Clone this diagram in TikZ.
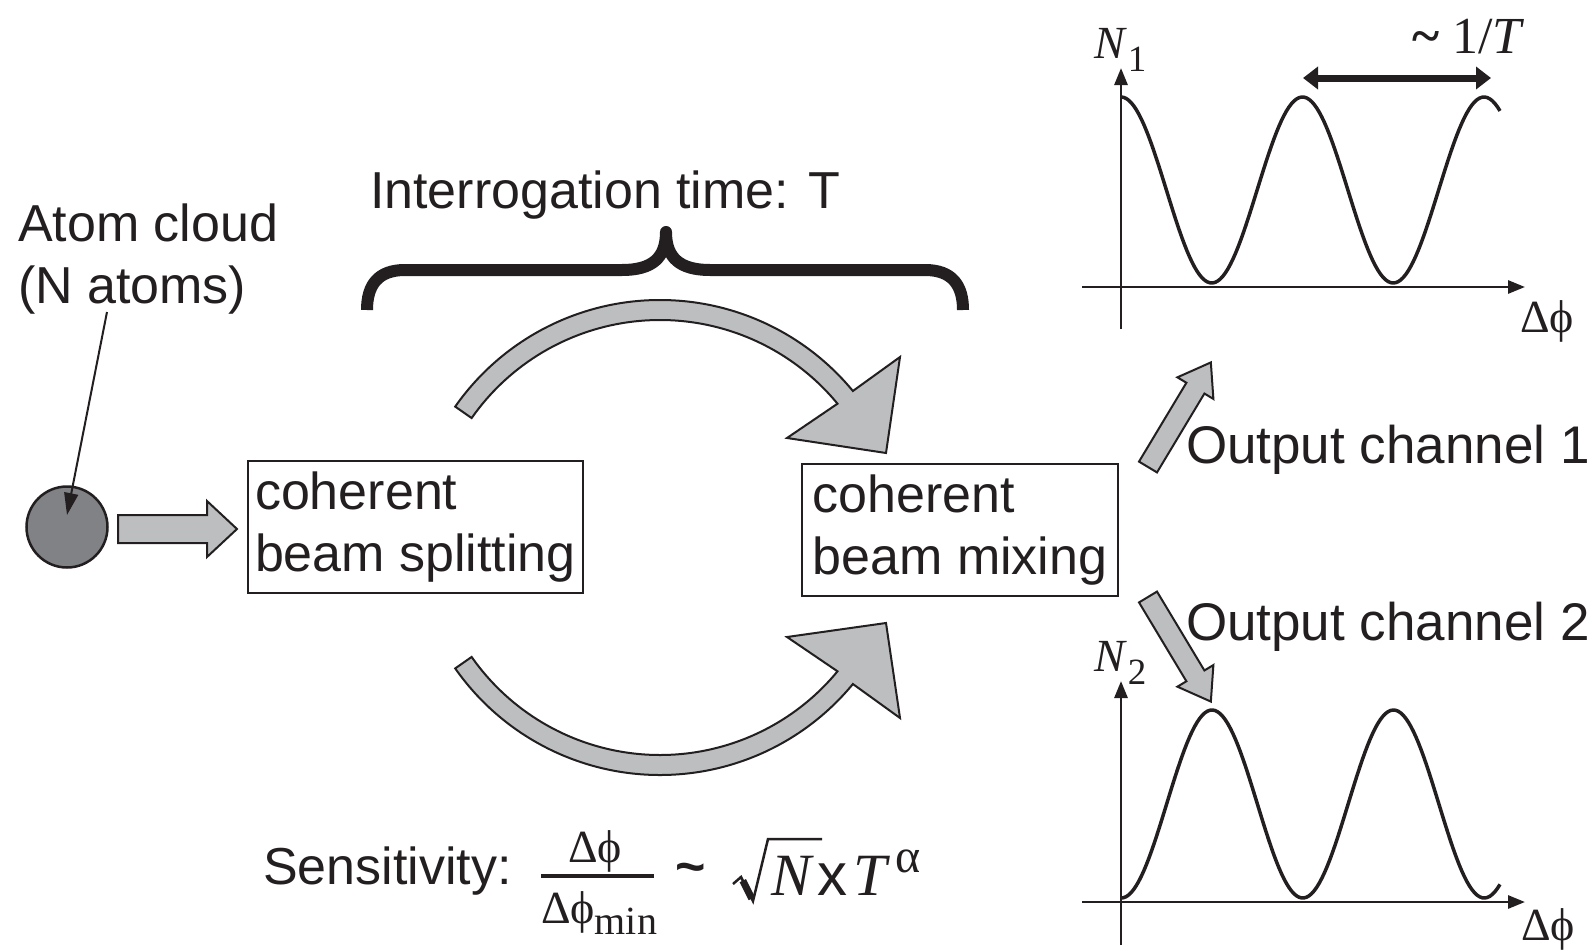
\documentclass[tikz,border=0pt]{standalone}
\usepackage{fontspec}
\setmainfont{Liberation Sans}
\newfontfamily\serif{Liberation Serif}
\usetikzlibrary{arrows.meta,calc}
\definecolor{ink}{HTML}{231F20}
\definecolor{lgray}{HTML}{BCBEC0}
\definecolor{dgray}{HTML}{808285}
\newcommand\blockarrow[7]{%
  \begin{scope}[shift={(#1,#2)},rotate=#3]
    \draw[blk] (0,{-#5/2}) -- ({#4-#7},{-#5/2}) -- ({#4-#7},{-#6/2}) -- (#4,0) -- ({#4-#7},{#6/2}) -- ({#4-#7},{#5/2}) -- (0,{#5/2}) -- cycle;
  \end{scope}}
\begin{document}
\begin{tikzpicture}[x=1pt,y=-1pt,
  sans/.style={font=\fontsize{52}{62}\selectfont, text=ink, inner sep=0pt, outer sep=0pt},
  lbl/.style={sans, anchor=base west},
  ser/.style={font=\fontsize{46}{50}\selectfont\serif, text=ink, inner sep=0pt, outer sep=0pt},
  big/.style={font=\fontsize{60}{64}\selectfont\serif, text=ink, inner sep=0pt, outer sep=0pt, anchor=base west},
  stage/.style={sans, draw=ink, line width=2.5pt, align=left, minimum height=132pt, anchor=north west},
  blk/.style={draw=ink, fill=lgray, line width=2pt, line join=miter},
  plotaxis/.style={draw=ink, line width=2.8pt, -{Triangle[length=17pt,width=13pt]}},
  wave/.style={draw=ink, line width=3.5pt, line join=round},
]
\useasboundingbox (0,0) rectangle (1592,950);

% atom cloud
\node[sans, align=left, anchor=north west] (atomtxt) at (18,204) {Atom cloud\\(N atoms)};
\node[circle, draw=ink, fill=dgray, line width=2.5pt, minimum size=81pt, inner sep=0pt, outer sep=0pt] (cloud) at (67,527) {};
\coordinate (ptail) at (107,312);
\coordinate (phead) at (67,515);
\draw[draw=ink, line width=2pt, -{Triangle[length=22pt,width=14pt]}] (ptail) -- (phead);

% boxes
\node[stage, minimum width=335pt] (split) at (248,461) {coherent\\beam splitting};
\node[stage, minimum width=316pt] (mix) at (802,464) {coherent\\beam mixing};

% straight block arrows
\blockarrow{118}{529}{0}{119}{28}{56}{30}
\blockarrow{1148}{467}{59}{122}{21}{42}{30}
\blockarrow{1148}{597}{-59}{122}{21}{42}{30}

% curved arrows
\draw[blk] (455.2,406.6) arc[start angle=-145, end angle=-39.5, radius=250]
  -- (900,357) -- (886,453) -- (787,438) -- (837.5,403.7)
  arc[start angle=-39.5, end angle=-145, radius=230] -- cycle;
\draw[blk] (455.2,668.4) arc[start angle=145, end angle=39.5, radius=250]
  -- (900,718) -- (886,623) -- (787,637) -- (837.5,671.3)
  arc[start angle=39.5, end angle=145, radius=230] -- cycle;

% brace
\draw[draw=ink, line width=12pt, line join=round]
  (367,310) .. controls (367,285) and (378,270) .. (405,270) -- (622,270)
  .. controls (652,270) and (666,258) .. (666,232)
  .. controls (666,258) and (680,270) .. (710,270) -- (925,270)
  .. controls (952,270) and (963,285) .. (963,310);
\node[lbl] (itime) at (370,208) {Interrogation time: T};

% output labels
\node[lbl, font=\fontsize{53}{62}\selectfont] (out1) at (1186,463) {Output channel 1};
\node[lbl, font=\fontsize{53}{62}\selectfont] (out2) at (1186,640) {Output channel 2};

% top plot
\draw[plotaxis] (1082,287) -- (1525,287);
\draw[plotaxis] (1121,329) -- (1121,68);
\draw[wave] plot[domain=1121:1500, samples=150] (\x, {190 - 93*cos((\x-1121)*1.98347)});
\coordinate (pl) at (1303,78);
\coordinate (pr) at (1491,78);
\draw[draw=ink, line width=7pt, {Triangle[length=15pt,width=22pt]}-{Triangle[length=15pt,width=22pt]}] (pl) -- (pr);
\node[ser, anchor=base west, font=\fontsize{52}{56}\selectfont\serif] (per) at (1412,53) {\textbf{\textasciitilde}\ 1/\textit{T}};
\node[ser, anchor=base west] (n1) at (1094,59) {\textit{N}\kern1pt\raisebox{-13pt}{\fontsize{37}{37}\selectfont 1}};
\node[ser, anchor=base west] (dphi1) at (1520,332) {Δϕ};

% bottom plot
\draw[plotaxis] (1082,902) -- (1525,902);
\draw[plotaxis] (1121,945) -- (1121,681);
\draw[wave] plot[domain=1121:1500, samples=150] (\x, {804 - 94*cos((\x-1212)*1.98347)});
\node[ser, anchor=base west] (n2) at (1094,671) {\textit{N}\kern1pt\raisebox{-13pt}{\fontsize{37}{37}\selectfont 2}};
\node[ser, anchor=base west] (dphi2) at (1521,940) {Δϕ};

% sensitivity formula
\node[lbl] (sens) at (263,884) {Sensitivity:};
\node[ser, anchor=base] (num) at (595,862) {Δϕ};
\coordinate (barl) at (541,876);
\coordinate (barr) at (654,876);
\draw[draw=ink, line width=4pt] (barl) -- (barr);
\node[ser, anchor=base west] (den) at (541,923) {Δϕ\raisebox{-11pt}{\fontsize{40}{40}\selectfont min}};
\node[lbl] (tilde) at (675,884) {\textbf{\textasciitilde}};
\coordinate (r0) at (733,884);
\coordinate (r1) at (741,877);
\coordinate (r2) at (753,901);
\coordinate (r3) at (768,839);
\coordinate (r4) at (822,839);
\draw[draw=ink, line width=2.5pt, line join=miter] (r0) -- (r1) -- (r2) -- (r3) -- (r4);
\draw[draw=ink, line width=7pt] ($(r1)!0.15!(r2)$) -- ($(r1)!0.9!(r2)$);
\node[big] (nn) at (771,895) {\textit{N}};
\node[big, font=\fontsize{60}{64}\selectfont] (times) at (817,895) {x};
\node[big] (tt) at (853,895) {\textit{T}};
\node[ser, anchor=base west, font=\fontsize{48}{50}\selectfont\serif] (alpha) at (895,872) {α};
\end{tikzpicture}
\end{document}
